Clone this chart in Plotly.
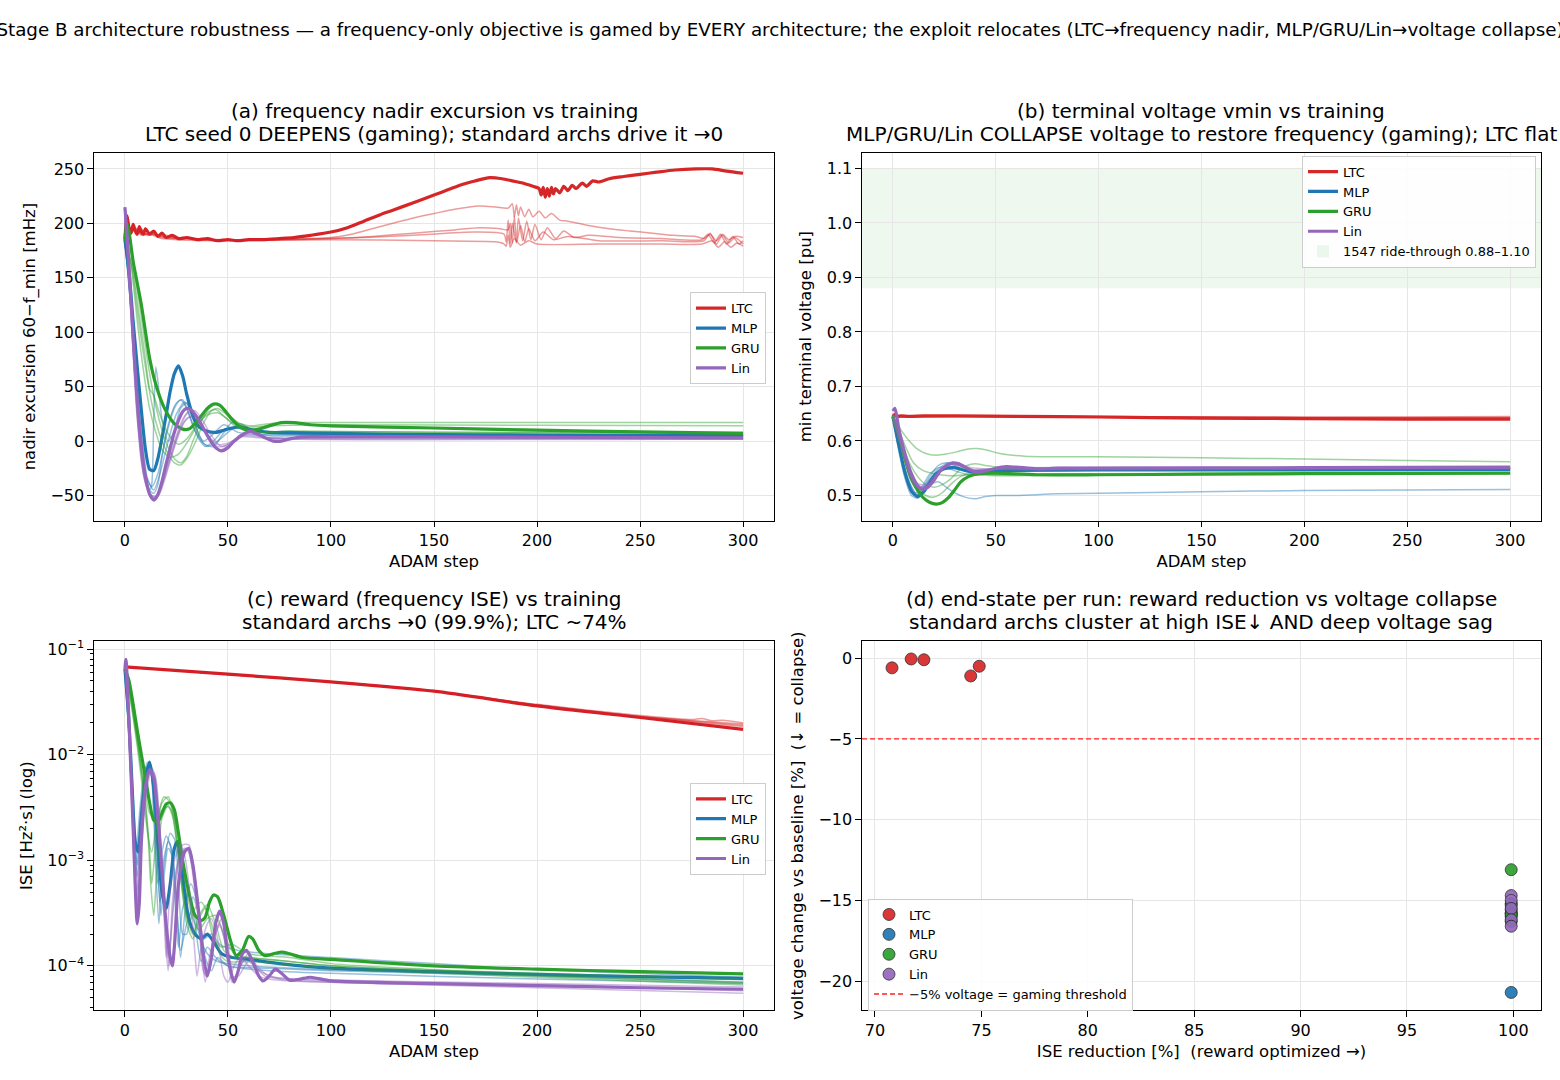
import plotly.graph_objects as go

# ---------------------------------------------------------------- data
ARCHS = ["LTC", "MLP", "GRU", "Lin"]
COLORS = {"LTC": "#d62728", "MLP": "#1f77b4", "GRU": "#2ca02c", "Lin": "#9467bd"}

# (a) nadir excursion [mHz] vs ADAM step; each run is (step, value) knots; run 0 = seed 0 (bold)
NADIR_LTC = [
    [(0, 185), (1, 207), (2, 196), (3, 191), (4, 199), (5, 193), (6, 190), (7, 197), (8, 192), (9, 190), (10, 195),
     (12, 190), (14, 193), (16, 188), (18, 191), (20, 187), (23, 189), (26, 186), (30, 187), (35, 185), (40, 186),
     (45, 184), (50, 185), (55, 184), (60, 185), (67, 185), (75, 186), (82, 187), (90, 189), (100, 192), (108, 196),
     (116, 202), (124, 208), (130, 212), (140, 219), (150, 226), (157, 231), (164, 236), (170, 239), (177, 242),
     (183, 241), (188, 239), (193, 237), (198, 234), (201, 232), (202, 226), (203, 233), (204, 224), (205, 232),
     (206, 225), (207, 233), (208, 227), (209, 232), (211, 228), (213, 234), (215, 230), (217, 235), (219, 232),
     (222, 237), (224, 234), (227, 239), (230, 238), (235, 241), (242, 243), (250, 245), (258, 247), (267, 249),
     (277, 250), (285, 250), (292, 248), (300, 246)],
    [(0, 185), (1, 203), (2, 194), (4, 197), (6, 191), (8, 195), (10, 190), (13, 192), (16, 188), (20, 189), (25, 186),
     (30, 187), (40, 185), (50, 185), (70, 185), (90, 186), (100, 187), (110, 190), (120, 195), (130, 200), (140, 205),
     (150, 209), (160, 213), (172, 216), (180, 215), (186, 214), (188, 218), (189, 206), (190, 217), (191, 207),
     (192, 215), (194, 206), (196, 213), (198, 206), (201, 211), (204, 205), (207, 209), (211, 203), (215, 202),
     (225, 198), (235, 195), (245, 193), (256, 191), (266, 189), (277, 188), (281, 186), (284, 190), (287, 184),
     (290, 190), (293, 185), (296, 188), (300, 187)],
    [(0, 185), (1, 204), (2, 193), (4, 198), (6, 190), (8, 194), (11, 189), (15, 190), (20, 187), (30, 186), (50, 185),
     (80, 185), (100, 186), (120, 188), (140, 191), (160, 194), (172, 196), (182, 195), (186, 194), (187, 200),
     (188, 182), (189, 207), (190, 183), (191, 205), (193, 184), (195, 202), (197, 185), (199, 199), (202, 185),
     (205, 196), (209, 186), (213, 193), (218, 187), (225, 189), (240, 187), (260, 186), (280, 185), (283, 190),
     (286, 182), (289, 190), (292, 181), (295, 188), (298, 181), (300, 184)],
    [(0, 185), (1, 202), (3, 192), (5, 196), (8, 190), (12, 191), (18, 187), (25, 186), (40, 185), (60, 185), (100, 186),
     (140, 189), (170, 192), (184, 190), (185, 183), (186, 203), (187, 181), (188, 200), (190, 182), (192, 198),
     (194, 183), (196, 195), (199, 184), (203, 192), (208, 185), (215, 188), (230, 184), (260, 184), (281, 184),
     (284, 191), (287, 181), (290, 189), (293, 182), (296, 187), (300, 181)],
    [(0, 185), (1, 200), (3, 191), (5, 195), (8, 189), (12, 190), (18, 186), (25, 185), (50, 184), (100, 185), (150, 184),
     (180, 183), (184, 181), (185, 179), (186, 189), (187, 178), (189, 186), (192, 180), (196, 184), (200, 181),
     (230, 181), (260, 181), (280, 181), (285, 184), (288, 178), (291, 183), (294, 178), (297, 182), (300, 179)],
]
NADIR_MLP = [
    [(0, 185), (2, 155), (4, 110), (6, 68), (8, 28), (10, -8), (12, -26), (14, -27), (16, -16), (18, 3), (20, 24),
     (22, 46), (24, 62), (26, 69), (28, 60), (30, 43), (33, 23), (36, 13), (40, 9), (44, 8), (48, 10), (52, 12),
     (56, 13), (60, 11), (70, 8), (80, 8), (100, 7), (150, 6), (200, 5.5), (250, 5), (300, 5)],
    [(0, 185), (3, 130), (6, 50), (9, -20), (12, -45), (14, -48), (16, -40), (18, -15), (21, 15), (25, 35), (28, 38),
     (31, 25), (35, 5), (39, -5), (43, 0), (48, 10), (55, 12), (62, 8), (70, 5), (100, 5), (200, 4), (300, 4)],
    [(0, 185), (3, 120), (6, 40), (9, -25), (12, -45), (13, -40), (14, 20), (15, 68), (16, 55), (18, 20), (21, 0),
     (24, 10), (27, 30), (30, 35), (34, 15), (38, 0), (42, 5), (48, 15), (55, 8), (65, 6), (100, 6), (300, 5)],
    [(0, 185), (3, 125), (6, 45), (10, -30), (13, -42), (16, -30), (20, 5), (24, 30), (27, 38), (30, 30), (34, 10),
     (38, -2), (43, -5), (47, 5), (52, 17), (58, 12), (70, 7), (100, 6), (300, 6)],
    [(0, 185), (4, 100), (8, 10), (11, -35), (14, -45), (17, -30), (21, 0), (25, 25), (29, 36), (32, 28), (36, 5),
     (40, -5), (45, 0), (50, 8), (56, 16), (62, 10), (75, 7), (150, 6), (300, 6)],
]
NADIR_GRU = [
    [(0, 185), (1, 200), (2, 192), (4, 165), (6, 145), (8, 125), (10, 100), (12, 76), (15, 52), (19, 31), (24, 16),
     (28, 11), (31, 11), (34, 16), (37, 23), (40, 30), (43, 34), (46, 33), (49, 27), (52, 20), (56, 13), (60, 10),
     (65, 11), (70, 14), (76, 17), (82, 17), (90, 15), (100, 14), (150, 12), (200, 10), (250, 8.5), (300, 7)],
    [(0, 185), (3, 172), (6, 140), (9, 100), (12, 62), (15, 32), (18, 10), (21, -6), (24, -16), (27, -20), (30, -14),
     (33, 0), (37, 18), (41, 30), (44, 34), (47, 31), (51, 23), (56, 16), (62, 14), (70, 16), (80, 17), (100, 17),
     (200, 17), (300, 17)],
    [(0, 185), (3, 165), (6, 120), (9, 80), (12, 45), (15, 18), (18, 0), (21, -12), (24, -20), (27, -22), (30, -16),
     (34, -2), (38, 16), (42, 28), (45, 30), (49, 25), (54, 17), (60, 13), (70, 14), (100, 15), (200, 14.5), (300, 14)],
    [(0, 185), (3, 160), (6, 110), (9, 65), (12, 30), (15, 8), (18, -8), (22, -15), (26, -12), (30, -2), (35, 14),
     (40, 26), (44, 29), (48, 23), (54, 13), (62, 8), (80, 9), (150, 8), (300, 7)],
    [(0, 185), (4, 155), (7, 115), (10, 75), (12, 48), (14, 42), (16, 30), (19, 14), (22, 4), (26, -3), (30, 2),
     (35, 15), (40, 24), (45, 26), (50, 20), (56, 12), (63, 8), (80, 9), (150, 8), (300, 8)],
]
NADIR_LIN = [
    [(0, 215), (1, 190), (2, 160), (4, 95), (6, 38), (8, -5), (10, -33), (12, -49), (14, -54), (16, -49), (18, -37),
     (20, -21), (22, -6), (24, 8), (26, 19), (28, 27), (30, 30), (32, 29), (35, 22), (38, 12), (41, 2), (44, -6),
     (47, -9), (50, -6), (53, 0), (57, 6), (61, 9), (64, 7), (68, 3), (72, 0), (76, 0), (80, 2), (86, 4), (100, 4),
     (150, 4), (200, 3.5), (300, 3)],
    [(0, 210), (2, 150), (5, 50), (8, -20), (11, -45), (14, -52), (17, -45), (20, -25), (24, 0), (28, 20), (31, 27),
     (34, 25), (38, 12), (42, 0), (46, -8), (50, -5), (55, 2), (60, 8), (65, 5), (75, 1), (90, 3), (150, 3), (300, 2)],
    [(0, 205), (2, 155), (5, 60), (8, -15), (11, -42), (14, -55), (17, -48), (21, -25), (25, 0), (29, 18), (33, 24),
     (37, 15), (41, 2), (45, -5), (49, -4), (54, 2), (60, 6), (70, 3), (90, 2), (300, 2)],
    [(0, 200), (3, 120), (6, 25), (9, -30), (12, -48), (15, -52), (18, -40), (22, -15), (26, 8), (30, 25), (34, 28),
     (38, 18), (42, 5), (47, -5), (52, -2), (58, 5), (65, 4), (80, 2), (300, 2)],
    [(0, 205), (3, 115), (6, 20), (10, -38), (13, -50), (16, -50), (19, -35), (23, -10), (27, 12), (31, 22), (35, 20),
     (40, 6), (45, -3), (50, -2), (56, 4), (65, 3), (300, 3)],
]

# (b) min terminal voltage [pu]
VMIN_LTC = [
    [(0, 0.645), (1, 0.649), (2, 0.645), (4, 0.646), (8, 0.645), (15, 0.646), (30, 0.646), (60, 0.645), (100, 0.644),
     (150, 0.642), (200, 0.641), (250, 0.640), (300, 0.640)],
    [(0, 0.645), (1, 0.648), (3, 0.645), (10, 0.646), (50, 0.646), (100, 0.645), (150, 0.644), (200, 0.644),
     (250, 0.644), (300, 0.645)],
    [(0, 0.645), (2, 0.647), (5, 0.645), (20, 0.645), (100, 0.645), (150, 0.644), (200, 0.643), (300, 0.643)],
    [(0, 0.645), (2, 0.644), (10, 0.645), (60, 0.645), (120, 0.643), (200, 0.642), (300, 0.642)],
    [(0, 0.645), (1, 0.647), (4, 0.644), (30, 0.645), (100, 0.644), (180, 0.642), (300, 0.641)],
]
VMIN_MLP = [
    [(0, 0.645), (3, 0.59), (6, 0.54), (9, 0.508), (12, 0.498), (15, 0.507), (18, 0.525), (21, 0.54), (25, 0.549),
     (30, 0.551), (35, 0.546), (40, 0.543), (50, 0.545), (60, 0.546), (100, 0.547), (200, 0.547), (300, 0.548)],
    [(0, 0.645), (3, 0.58), (6, 0.53), (9, 0.50), (12, 0.495), (15, 0.505), (18, 0.52), (22, 0.525), (26, 0.515),
     (30, 0.505), (35, 0.497), (40, 0.494), (45, 0.498), (50, 0.50), (60, 0.50), (80, 0.503), (100, 0.504),
     (150, 0.507), (200, 0.509), (250, 0.51), (300, 0.511)],
    [(0, 0.645), (4, 0.57), (8, 0.52), (11, 0.50), (14, 0.51), (18, 0.535), (22, 0.555), (26, 0.56), (30, 0.555),
     (36, 0.545), (45, 0.548), (60, 0.55), (300, 0.55)],
    [(0, 0.645), (4, 0.575), (8, 0.525), (11, 0.505), (14, 0.515), (18, 0.54), (23, 0.552), (28, 0.548), (35, 0.54),
     (45, 0.545), (100, 0.547), (300, 0.548)],
    [(0, 0.645), (5, 0.56), (9, 0.515), (12, 0.502), (16, 0.52), (21, 0.545), (27, 0.56), (33, 0.555), (40, 0.545),
     (55, 0.548), (300, 0.549)],
]
VMIN_GRU = [
    [(0, 0.645), (3, 0.61), (6, 0.565), (9, 0.53), (12, 0.51), (15, 0.495), (18, 0.487), (21, 0.484), (24, 0.487),
     (27, 0.496), (30, 0.51), (33, 0.525), (37, 0.535), (42, 0.54), (50, 0.541), (70, 0.538), (100, 0.538),
     (150, 0.539), (200, 0.54), (300, 0.541)],
    [(0, 0.645), (4, 0.62), (8, 0.60), (12, 0.585), (16, 0.577), (21, 0.574), (26, 0.576), (31, 0.58), (36, 0.585),
     (41, 0.586), (46, 0.583), (52, 0.577), (64, 0.572), (80, 0.571), (100, 0.571), (150, 0.569), (200, 0.567),
     (250, 0.564), (300, 0.562)],
    [(0, 0.645), (4, 0.60), (8, 0.56), (12, 0.535), (16, 0.52), (20, 0.515), (24, 0.52), (28, 0.53), (32, 0.545),
     (36, 0.555), (40, 0.558), (45, 0.555), (55, 0.55), (80, 0.548), (150, 0.548), (300, 0.548)],
    [(0, 0.645), (4, 0.59), (8, 0.545), (12, 0.515), (16, 0.50), (20, 0.497), (24, 0.505), (28, 0.52), (33, 0.535),
     (40, 0.54), (50, 0.538), (80, 0.54), (300, 0.542)],
    [(0, 0.645), (5, 0.60), (10, 0.56), (15, 0.545), (20, 0.54), (25, 0.537), (30, 0.536), (35, 0.538), (45, 0.537),
     (60, 0.536), (100, 0.538), (300, 0.54)],
]
VMIN_LIN = [
    [(0, 0.655), (1, 0.66), (3, 0.62), (6, 0.575), (9, 0.54), (12, 0.518), (14, 0.512), (17, 0.515), (20, 0.528),
     (23, 0.545), (26, 0.555), (29, 0.56), (32, 0.558), (36, 0.55), (40, 0.543), (45, 0.545), (50, 0.55), (55, 0.553),
     (60, 0.552), (70, 0.549), (80, 0.55), (100, 0.55), (200, 0.551), (300, 0.552)],
    [(0, 0.65), (4, 0.60), (8, 0.545), (12, 0.52), (16, 0.515), (20, 0.53), (25, 0.55), (30, 0.558), (35, 0.552),
     (42, 0.545), (50, 0.55), (70, 0.55), (300, 0.55)],
    [(0, 0.645), (4, 0.595), (8, 0.54), (12, 0.515), (15, 0.513), (19, 0.525), (24, 0.548), (28, 0.557), (33, 0.553),
     (40, 0.545), (55, 0.55), (300, 0.549)],
    [(0, 0.65), (4, 0.605), (8, 0.55), (12, 0.522), (17, 0.52), (22, 0.54), (27, 0.555), (32, 0.556), (38, 0.548),
     (48, 0.548), (300, 0.551)],
    [(0, 0.64), (4, 0.59), (8, 0.538), (11, 0.518), (15, 0.516), (20, 0.535), (26, 0.556), (31, 0.56), (37, 0.552),
     (50, 0.548), (300, 0.552)],
]
RIDE_THROUGH = (0.88, 1.10)

# (c) reward = frequency ISE [Hz^2 s]
ISE_LTC = [
    [(0, 0.068), (50, 0.058), (100, 0.049), (150, 0.040), (200, 0.029), (250, 0.0225), (300, 0.0174)],
    [(0, 0.068), (100, 0.049), (150, 0.040), (200, 0.030), (250, 0.0235), (275, 0.0215), (280, 0.022), (285, 0.021),
     (290, 0.0212), (300, 0.020)],
    [(0, 0.068), (100, 0.049), (150, 0.040), (200, 0.0295), (250, 0.023), (300, 0.0195)],
    [(0, 0.068), (100, 0.049), (150, 0.040), (200, 0.0295), (250, 0.023), (300, 0.019)],
    [(0, 0.068), (100, 0.049), (150, 0.040), (200, 0.029), (250, 0.0228), (300, 0.0185)],
]
ISE_MLP = [
    [(0, 0.065), (2, 0.02), (3.5, 0.005), (5, 0.0015), (6.5, 0.0012), (8, 0.0025), (10, 0.006), (12, 0.0085),
     (14, 0.005), (16, 0.0015), (18, 0.0005), (20, 0.00035), (22, 0.0006), (24, 0.0013), (25.5, 0.0015), (27, 0.001),
     (29, 0.0005), (31, 0.00028), (34, 0.0002), (37, 0.00018), (40, 0.0002), (43, 0.00017), (47, 0.00013),
     (52, 0.00012), (60, 0.000115), (75, 0.000105), (100, 0.000095), (150, 0.000088), (200, 0.000083),
     (250, 0.000079), (300, 0.000076)],
    [(0, 0.06), (2, 0.015), (4, 0.002), (5, 0.0006), (6.5, 0.002), (9, 0.006), (11, 0.0085), (13, 0.006), (15, 0.0008),
     (16.5, 0.00025), (18, 0.0008), (21, 0.0015), (23, 0.0012), (25, 0.0004), (27, 0.00012), (29, 0.0003),
     (32, 0.0006), (35, 0.0004), (38, 0.00018), (42, 0.0002), (46, 0.00016), (55, 0.00014), (70, 0.00013),
     (100, 0.00012), (150, 0.000105), (200, 0.000092), (300, 0.000078)],
    [(0, 0.062), (2, 0.018), (4, 0.003), (6, 0.0009), (8, 0.003), (10, 0.0075), (12, 0.008), (14, 0.003), (16, 0.0006),
     (18, 0.0012), (20, 0.0017), (22, 0.0014), (24, 0.0005), (26, 0.00015), (28, 0.00035), (31, 0.0005),
     (34, 0.00025), (37, 0.00011), (40, 0.00015), (44, 0.00012), (50, 0.0001), (70, 0.000095), (100, 0.00009),
     (200, 0.00008), (300, 0.00007)],
    [(0, 0.065), (2, 0.02), (4, 0.004), (6, 0.0012), (8, 0.0035), (11, 0.0075), (13, 0.0065), (15, 0.002),
     (17, 0.0004), (19, 0.0009), (22, 0.0018), (24, 0.0016), (26, 0.0007), (28, 0.0002), (30, 0.0002), (33, 0.00045),
     (36, 0.0003), (39, 0.00012), (42, 0.00009), (45, 0.00012), (50, 0.0001), (70, 0.00009), (100, 0.000085),
     (200, 0.000075), (300, 0.000068)],
    [(0, 0.064), (2, 0.016), (4, 0.0025), (6, 0.0007), (8, 0.0025), (10, 0.0065), (12, 0.0078), (14, 0.004),
     (16, 0.0009), (17.5, 0.0003), (19, 0.0007), (21, 0.0013), (23, 0.0011), (25, 0.0004), (27, 0.00014), (30, 0.00025),
     (33, 0.00035), (36, 0.0002), (40, 0.00013), (45, 0.00011), (60, 0.0001), (100, 0.000092), (200, 0.000082),
     (300, 0.000074)],
]
ISE_GRU = [
    [(0, 0.065), (2, 0.05), (4, 0.03), (6, 0.017), (8, 0.01), (10, 0.006), (12, 0.0035), (14, 0.0024), (16, 0.0023),
     (18, 0.0028), (20, 0.0034), (22, 0.0035), (24, 0.003), (26, 0.0018), (28, 0.001), (31, 0.0005), (34, 0.0003),
     (37, 0.00027), (39, 0.00029), (41, 0.0004), (43, 0.00047), (45, 0.00045), (48, 0.0003), (51, 0.00018),
     (54, 0.000125), (57, 0.00014), (60, 0.00019), (62, 0.00018), (65, 0.00014), (68, 0.000125), (72, 0.00013),
     (76, 0.000135), (80, 0.00013), (86, 0.00012), (100, 0.000115), (150, 0.0001), (200, 0.000093), (250, 0.000088),
     (300, 0.000084)],
    [(0, 0.065), (3, 0.035), (6, 0.015), (8, 0.007), (10, 0.0035), (12, 0.0012), (13, 0.0006), (14, 0.0009),
     (16, 0.0025), (19, 0.004), (22, 0.0035), (25, 0.0015), (28, 0.0005), (31, 0.00025), (34, 0.00035), (37, 0.0004),
     (40, 0.00032), (43, 0.00018), (47, 0.00015), (52, 0.00016), (60, 0.00013), (80, 0.00012), (100, 0.000105),
     (150, 0.000092), (200, 0.000082), (300, 0.00007)],
    [(0, 0.065), (3, 0.03), (6, 0.012), (9, 0.004), (11, 0.0018), (13, 0.0012), (15, 0.002), (18, 0.0035), (21, 0.004),
     (24, 0.0025), (27, 0.0008), (30, 0.0003), (33, 0.0002), (36, 0.0003), (40, 0.00038), (44, 0.00025),
     (48, 0.00014), (53, 0.00012), (60, 0.00012), (80, 0.00011), (100, 0.0001), (200, 0.00008), (300, 0.000068)],
    [(0, 0.065), (3, 0.032), (6, 0.013), (9, 0.005), (11, 0.002), (12.5, 0.0006), (14, 0.0003), (15.5, 0.0008),
     (18, 0.0025), (21, 0.0033), (24, 0.0022), (27, 0.0007), (30, 0.00025), (33, 0.00018), (36, 0.00028),
     (39, 0.00035), (42, 0.00025), (46, 0.00013), (50, 0.00011), (60, 0.00011), (100, 0.000095), (200, 0.000078),
     (300, 0.000066)],
    [(0, 0.065), (3, 0.033), (6, 0.014), (9, 0.006), (12, 0.0028), (15, 0.0025), (18, 0.003), (21, 0.0032),
     (24, 0.0025), (27, 0.0012), (30, 0.0005), (33, 0.00028), (36, 0.00022), (40, 0.00028), (44, 0.0003), (48, 0.0002),
     (53, 0.00013), (60, 0.00012), (80, 0.00011), (100, 0.0001), (200, 0.000085), (300, 0.000075)],
]
ISE_LIN = [
    [(0, 0.065), (0.5, 0.08), (2, 0.02), (4, 0.002), (6, 0.00025), (7, 0.0004), (8, 0.0015), (10, 0.005), (12, 0.0072),
     (14, 0.006), (16, 0.0025), (18, 0.0008), (20, 0.00025), (22, 0.00012), (23, 0.0001), (24, 0.00015), (26, 0.0006),
     (29, 0.0012), (31, 0.0013), (33, 0.0009), (36, 0.0003), (38, 0.00013), (40, 0.00008), (42, 0.00012),
     (44, 0.00025), (46, 0.00033), (48, 0.00025), (50, 0.00012), (53, 0.00007), (55, 0.00009), (57, 0.00013),
     (59, 0.00014), (62, 0.00011), (65, 0.00008), (67, 0.000072), (70, 0.00008), (73, 0.000093), (76, 0.000085),
     (80, 0.000073), (85, 0.000075), (90, 0.000078), (100, 0.000072), (150, 0.000068), (200, 0.000065),
     (250, 0.000062), (300, 0.00006)],
    [(0, 0.07), (2, 0.015), (4, 0.0015), (5.5, 0.0003), (7, 0.0015), (9, 0.004), (11, 0.0065), (13, 0.007),
     (15, 0.004), (17, 0.0012), (19, 0.0003), (20, 0.00012), (21.5, 0.0004), (24, 0.001), (27, 0.0014), (29, 0.0011),
     (32, 0.0004), (34, 0.00013), (35, 0.00008), (37, 0.00015), (40, 0.00025), (42, 0.00028), (45, 0.00018),
     (48, 0.00008), (50, 0.00007), (53, 0.0001), (56, 0.00012), (60, 0.0001), (65, 0.00008), (70, 0.000075),
     (80, 0.000072), (100, 0.00007), (200, 0.000062), (300, 0.000055)],
    [(0, 0.075), (2, 0.017), (4, 0.002), (6, 0.0004), (8, 0.0018), (10, 0.0045), (12, 0.0068), (14, 0.0065),
     (16, 0.003), (18, 0.0008), (20, 0.00015), (21, 0.00009), (23, 0.0003), (26, 0.0009), (29, 0.0013), (31, 0.0012),
     (34, 0.0005), (37, 0.00015), (39, 0.00007), (41, 0.00012), (44, 0.00022), (46, 0.00025), (49, 0.00015),
     (52, 0.00007), (55, 0.00009), (59, 0.00012), (63, 0.0001), (68, 0.00008), (80, 0.000075), (100, 0.000072),
     (200, 0.000066), (300, 0.00006)],
    [(0, 0.072), (2, 0.018), (4, 0.0025), (6.5, 0.0005), (9, 0.0025), (11, 0.005), (13, 0.0075), (15, 0.006),
     (17, 0.002), (19, 0.0005), (21, 0.00012), (22.5, 0.0002), (25, 0.0008), (28, 0.0014), (31, 0.0014), (34, 0.0007),
     (37, 0.0002), (39, 0.00008), (41, 0.00009), (44, 0.0002), (47, 0.00028), (50, 0.00016), (53, 0.00007),
     (56, 0.0001), (60, 0.00013), (64, 0.0001), (70, 0.00008), (100, 0.000074), (200, 0.000068), (300, 0.000063)],
    [(0, 0.068), (2, 0.016), (4, 0.0018), (6, 0.00035), (8, 0.0016), (10, 0.0042), (12, 0.007), (14, 0.0068),
     (16, 0.0035), (18, 0.001), (20, 0.0002), (21.5, 0.0001), (23, 0.0004), (26, 0.001), (30, 0.0013), (33, 0.0008),
     (36, 0.00025), (38, 0.00009), (40, 0.00008), (43, 0.00018), (46, 0.00024), (49, 0.00016), (52, 0.00008),
     (55, 0.00008), (60, 0.00011), (65, 0.00009), (75, 0.000075), (100, 0.00007), (200, 0.000065), (300, 0.000058)],
]

# (d) end state per run
END_ISE_RED = {"LTC": [70.8, 71.7, 72.3, 74.5, 74.9],
               "MLP": [99.9, 99.9, 99.9, 99.9, 99.9],
               "GRU": [99.9, 99.9, 99.9, 99.9, 99.9],
               "Lin": [99.9, 99.9, 99.9, 99.9, 99.9]}
END_DV = {"LTC": [-0.6, -0.05, -0.1, -1.1, -0.5],
          "MLP": [-20.7, -15.6, -15.2, -16.0, -15.8],
          "GRU": [-13.1, -15.3, -16.3, -15.8, -15.9],
          "Lin": [-14.7, -15.0, -15.5, -16.2, -16.6]}
GAMING_THRESHOLD = -5

NADIR = {"LTC": NADIR_LTC, "MLP": NADIR_MLP, "GRU": NADIR_GRU, "Lin": NADIR_LIN}
VMIN = {"LTC": VMIN_LTC, "MLP": VMIN_MLP, "GRU": VMIN_GRU, "Lin": VMIN_LIN}
ISE = {"LTC": ISE_LTC, "MLP": ISE_MLP, "GRU": ISE_GRU, "Lin": ISE_LIN}

# ---------------------------------------------------------------- figure
W, H = 1560, 1080
FONT = "DejaVu Sans"
fig = go.Figure()


def unzip(run):
    return [p[0] for p in run], [p[1] for p in run]


panels = [(NADIR, "x", "y", "legend"), (VMIN, "x2", "y2", "legend2"), (ISE, "x3", "y3", "legend3")]
for data, xa, ya, lg in panels:
    for arch in ARCHS:
        runs = data[arch]
        for run in runs[1:]:
            xs, ys = unzip(run)
            fig.add_trace(go.Scatter(x=xs, y=ys, xaxis=xa, yaxis=ya, mode="lines",
                                     line=dict(color=COLORS[arch], width=1.5, shape="spline", smoothing=0.7),
                                     opacity=0.45, showlegend=False, hoverinfo="skip"))
        xs, ys = unzip(runs[0])
        fig.add_trace(go.Scatter(x=xs, y=ys, xaxis=xa, yaxis=ya, mode="lines", name=arch, legend=lg,
                                 line=dict(color=COLORS[arch], width=3.2, shape="spline", smoothing=0.7)))

for arch in ARCHS:
    fig.add_trace(go.Scatter(x=END_ISE_RED[arch], y=END_DV[arch], xaxis="x4", yaxis="y4", mode="markers",
                             name=arch, legend="legend4", opacity=0.92,
                             marker=dict(size=12, color=COLORS[arch], line=dict(color="#222222", width=0.8))))

fig.add_shape(type="rect", xref="x2 domain", yref="y2", x0=0, x1=1, y0=RIDE_THROUGH[0], y1=RIDE_THROUGH[1],
              fillcolor="rgba(44,160,44,0.08)", line=dict(width=0), layer="below",
              showlegend=True, name="1547 ride-through 0.88–1.10", legend="legend2")
fig.add_shape(type="line", xref="x4 domain", yref="y4", x0=0, x1=1, y0=GAMING_THRESHOLD, y1=GAMING_THRESHOLD,
              line=dict(color="#ff2020", width=1.4, dash="5px,3px"),
              showlegend=True, name="−5% voltage = gaming threshold", legend="legend4")


def px_x(p):
    return p / W


def px_y(p):
    return 1 - p / H


XD_L = [px_x(94), px_x(774)]
XD_R = [px_x(862), px_x(1541)]
YD_T = [px_y(519), px_y(150)]
YD_B = [px_y(1010), px_y(640)]


def axis(domain, anchor, rng, title, standoff=8, **kw):
    d = dict(domain=domain, anchor=anchor, range=rng, showline=True, linecolor="black", linewidth=1.2, mirror=True,
             ticks="outside", ticklen=5.5, tickwidth=1.2, tickcolor="black", showgrid=True, gridcolor="#e6e6e6",
             gridwidth=1, zeroline=False, tickfont=dict(size=16, color="black", family=FONT),
             title=dict(text=title, font=dict(size=16.5, color="black", family=FONT), standoff=standoff))
    d.update(kw)
    return d


LOG_MAJOR = [1e-4, 1e-3, 1e-2, 1e-1]
LOG_LABELS = ["10<sup>−4</sup>", "10<sup>−3</sup>", "10<sup>−2</sup>", "10<sup>−1</sup>"]
LOG_MINOR = [k * d for d in [1e-5, 1e-4, 1e-3, 1e-2, 1e-1] for k in range(2, 10)]

fig.update_layout(
    width=W, height=H, margin=dict(l=0, r=0, t=0, b=0),
    paper_bgcolor="white", plot_bgcolor="white",
    font=dict(family=FONT, color="black"),
    title=dict(text="Stage B architecture robustness — a frequency-only objective is gamed by EVERY architecture; "
                    "the exploit relocates (LTC→frequency nadir, MLP/GRU/Lin→voltage collapse)",
               x=0.5, xanchor="center", y=1 - 30 / H, yanchor="middle", yref="container",
               font=dict(size=18.3, family=FONT, color="black")),
    xaxis=axis(XD_L, "y", [-15, 315], "ADAM step", 6, dtick=50, tick0=0),
    yaxis=axis(YD_T, "x", [-73, 265], "nadir excursion 60−f_min [mHz]", 10, dtick=50, tick0=0),
    xaxis2=axis(XD_R, "y2", [-15, 315], "ADAM step", 6, dtick=50, tick0=0),
    yaxis2=axis(YD_T, "x2", [0.454, 1.129], "min terminal voltage [pu]", 10, dtick=0.1, tick0=0, tickformat=".1f"),
    xaxis3=axis(XD_L, "y3", [-15, 315], "ADAM step", 6, dtick=50, tick0=0),
    yaxis3=axis(YD_B, "x3", [-4.42, -0.925], "ISE [Hz²·s] (log)", 10, type="log", tickmode="array",
                tickvals=LOG_MAJOR, ticktext=LOG_LABELS,
                minor=dict(tickmode="array", tickvals=LOG_MINOR, ticks="outside", ticklen=3, tickwidth=1,
                           tickcolor="black", showgrid=False)),
    xaxis4=axis(XD_R, "y4", [69.39, 101.3], "ISE reduction [%]  (reward optimized →)", 6, dtick=5, tick0=0),
    yaxis4=axis(YD_B, "x4", [-21.8, 1.05], "voltage change vs baseline [%]  (↓ = collapse)", 10, dtick=5, tick0=0),
)

leg_common = dict(yanchor="top", bgcolor="rgba(255,255,255,0.85)", bordercolor="#cccccc",
                  borderwidth=1, font=dict(size=13, family=FONT, color="black"), itemwidth=30, tracegroupgap=0)
fig.update_layout(
    legend=dict(x=px_x(690), xanchor="left", y=px_y(290), **leg_common),
    legend2=dict(x=px_x(1536), xanchor="right", y=px_y(153), **leg_common),
    legend3=dict(x=px_x(690), xanchor="left", y=px_y(782), **leg_common),
    legend4=dict(x=px_x(868), xanchor="left", y=px_y(898), **leg_common),
)

TITLES = [
    (434, 108, "(a) frequency nadir excursion vs training"),
    (434, 131, "LTC seed 0 DEEPENS (gaming); standard archs drive it →0"),
    (1201, 108, "(b) terminal voltage vmin vs training"),
    (1201, 131, "MLP/GRU/Lin COLLAPSE voltage to restore frequency (gaming); LTC flat"),
    (434, 598, "(c) reward (frequency ISE) vs training"),
    (434, 621, "standard archs →0 (99.9%); LTC ~74%"),
    (1201, 598, "(d) end-state per run: reward reduction vs voltage collapse"),
    (1201, 621, "standard archs cluster at high ISE↓ AND deep voltage sag"),
]
for xp, yp, txt in TITLES:
    fig.add_annotation(x=px_x(xp), y=px_y(yp), xref="paper", yref="paper", text=txt, showarrow=False,
                       xanchor="center", yanchor="middle", font=dict(size=20, family=FONT, color="black"))

fig.write_html("out.html")
